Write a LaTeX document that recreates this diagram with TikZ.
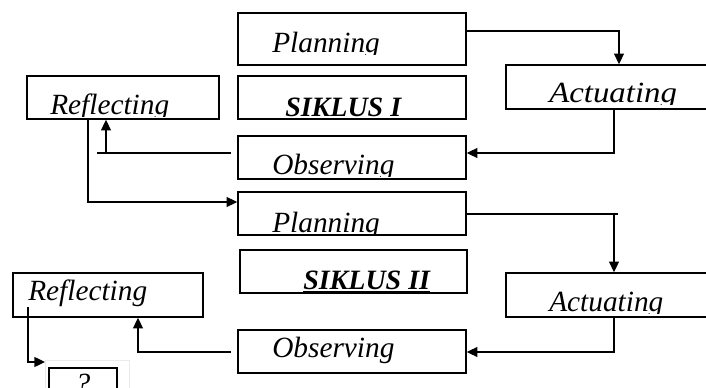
\documentclass[tikz,border=0pt]{standalone}
\usepackage{fontspec}
\setmainfont{Liberation Serif}
\newfontfamily\actfont[FakeStretch=1.12]{Liberation Serif}
\usepackage{tikz}
\usetikzlibrary{arrows.meta}

\tikzset{
  box/.style={draw, line width=1.2pt, inner sep=0pt, fill=white},
  wide/.style={box, minimum width=171pt, minimum height=32.25pt},
  side/.style={box, minimum width=180pt, minimum height=33pt},
  lbl/.style={inner sep=0pt, anchor=base west, font=\fontsize{22}{26}\selectfont\itshape},
  ln/.style={line width=1pt},
  arr/.style={ln, -{Triangle[length=8pt,width=7.5pt]}}
}

\begin{document}
\begin{tikzpicture}[x=0.75pt, y=-0.75pt]
\useasboundingbox (0,0) rectangle (706,388);

% siklus I
\node[wide, minimum height=39pt] (plan1) at (352,39) {};
\node[wide] (sik1) at (352,97.5) {};
\node[wide] (obs1) at (352,157.5) {};
\node[box, minimum width=144pt, minimum height=32.25pt] (refl1) at (123,97.5) {};
\node[side] (act1) at (626,87) {};

% siklus II
\node[wide] (plan2) at (352,213.5) {};
\node[wide, minimum width=170.25pt] (sik2) at (353.5,271.5) {};
\node[wide] (obs2) at (352,351.5) {};
\node[box, minimum width=142.5pt, minimum height=33pt] (refl2) at (108,295) {};
\node[side] (act2) at (626,295) {};

% kotak ?
\draw[black!8, line width=0.6pt] (45,360) rectangle (129,400);
\node[box, minimum width=51pt, minimum height=30pt] (tanya) at (83,388) {};

% teks (terpotong di bawah)
\begin{scope}
\clip (238,13) rectangle (466,55)
      (238,76) rectangle (466,118)
      (238,136) rectangle (466,177)
      (27,76) rectangle (219,117)
      (506,65) rectangle (706,105)
      (238,192) rectangle (466,234)
      (240,250) rectangle (467,293)
      (506,273) rectangle (706,313);
\node[lbl] (plan1txt) at (272,53) {Planning};
\node[lbl, font=\fontsize{21}{25}\selectfont\bfseries\itshape] (sik1txt) at (285,117) {\underline{SIKLUS I}};
\node[lbl] (obs1txt) at (272,175) {Observing};
\node[lbl] (refl1txt) at (50,115) {Reflecting};
\node[lbl, font=\fontsize{22}{26}\selectfont\actfont\itshape] (act1txt) at (549,103) {Actuating};
\node[lbl] (plan2txt) at (272,233) {Planning};
\node[lbl, font=\fontsize{21}{25}\selectfont\bfseries\itshape] (sik2txt) at (303,289) {\underline{SIKLUS II}};
\node[lbl] (act2txt) at (549,311) {Actuating};
\end{scope}
\node[lbl] (refl2txt) at (28,300) {Reflecting};
\node[lbl] (obs2txt) at (272,357) {Observing};
\node[lbl, anchor=base] (tanyatxt) at (83,393) {?};

% alur siklus I
\draw[arr] (plan1.east |- 0,31) -| (619,0 |- act1.north);
\draw[arr] (614,0 |- act1.south) |- (obs1.east |- 0,153);
\coordinate (o1a) at (231,153);
\coordinate (o1b) at (97,153);
\draw[ln] (o1a) -- (o1b);
\draw[arr] (106,153) -- (106,0 |- refl1.south);
\draw[arr] (88,0 |- refl1.south) |- (plan2.west |- 0,202);

% alur siklus II
\coordinate (p2a) at (618,214);
\draw[ln] (plan2.east |- 0,214) -- (p2a);
\draw[arr] (614,214) -- (614,0 |- act2.north);
\draw[arr] (614,0 |- act2.south) |- (obs2.east |- 0,352);
\coordinate (o2a) at (231,352);
\draw[arr] (o2a) -| (138,0 |- refl2.south);
\coordinate (r2a) at (28,307);
\coordinate (r2b) at (45,362);
\draw[arr] (r2a) |- (r2b);
\end{tikzpicture}
\end{document}
